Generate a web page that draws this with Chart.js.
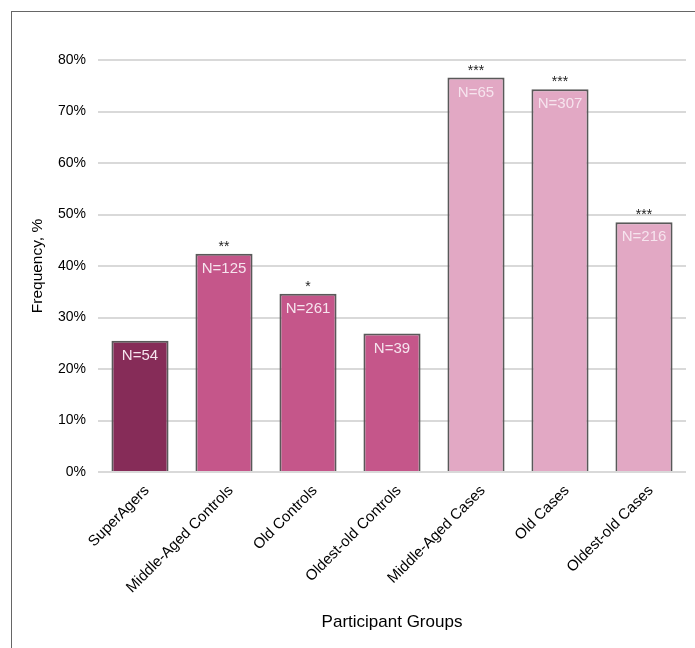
<!DOCTYPE html>
<html lang="en">
<head>
    <meta charset="UTF-8">
    <title>Participant Groups</title>
    <style>
        body {
            margin: 0;
            background: #ffffff;
            font-family: "Liberation Sans", Arial, sans-serif;
        }
        #wrap {
            position: relative;
            width: 695px;
            height: 648px;
            overflow: hidden;
        }
        #frame {
            position: absolute;
            left: 11px;
            top: 11px;
            width: 720px;
            height: 700px;
            border-top: 1px solid #666666;
            border-left: 1px solid #666666;
            pointer-events: none;
        }
    </style>
</head>
<body>
    <div id="wrap">
        <canvas id="myChart" width="695" height="648"></canvas>
        <div id="frame"></div>
    </div>

    <script src="https://cdn.jsdelivr.net/npm/chart.js"></script>
    <script>
        // datos
        const groups = ['SuperAgers', 'Middle-Aged Controls', 'Old Controls', 'Oldest-old Controls',
                        'Middle-Aged Cases', 'Old Cases', 'Oldest-old Cases'];
        const frequency = [25.5, 42.4, 34.6, 26.9, 76.6, 74.3, 48.5];
        const sampleSizes = ['N=54', 'N=125', 'N=261', 'N=39', 'N=65', 'N=307', 'N=216'];
        const stars = ['', '**', '*', '', '***', '***', '***'];
        const barColors = ['#862c58', '#c5568a', '#c5568a', '#c5568a', '#e2a8c4', '#e2a8c4', '#e2a8c4'];
        const yTicks = [0, 10, 20, 30, 40, 50, 60, 70, 80];

        const font = '"Liberation Sans", Arial, sans-serif';

        // etiquetas N= dentro de la barra y asteriscos encima
        const barLabels = {
            id: 'barLabels',
            afterDatasetsDraw(chart) {
                const ctx = chart.ctx;
                const meta = chart.getDatasetMeta(0);
                ctx.save();
                ctx.textAlign = 'center';
                meta.data.forEach((bar, i) => {
                    ctx.font = '15px ' + font;
                    ctx.fillStyle = '#f6e4ee';
                    ctx.textBaseline = 'middle';
                    ctx.fillText(sampleSizes[i], bar.x, bar.y + 15);
                    if (stars[i]) {
                        ctx.font = '14px ' + font;
                        ctx.fillStyle = '#222222';
                        ctx.textBaseline = 'alphabetic';
                        ctx.fillText(stars[i], bar.x, bar.y - 3);
                    }
                });
                ctx.restore();
            }
        };

        const ctx = document.getElementById('myChart').getContext('2d');
        const myChart = new Chart(ctx, {
            type: 'bar',
            data: {
                labels: groups,
                datasets: [{
                    data: frequency,
                    backgroundColor: barColors,
                    borderColor: '#595959',
                    borderWidth: 2,
                    borderSkipped: 'bottom',
                    barPercentage: 0.68,
                    categoryPercentage: 1.0
                }]
            },
            options: {
                responsive: false,
                animation: false,
                layout: {
                    padding: { left: 11, right: 9, top: 60, bottom: 0 }
                },
                plugins: {
                    legend: { display: false },
                    tooltip: { enabled: false }
                },
                scales: {
                    x: {
                        grid: { display: false },
                        border: { display: false },
                        ticks: {
                            color: '#000000',
                            font: { family: font, size: 15 },
                            minRotation: 45,
                            maxRotation: 45,
                            padding: 2,
                            labelOffset: 7
                        },
                        title: {
                            display: true,
                            text: 'Participant Groups',
                            color: '#000000',
                            font: { family: font, size: 17 },
                            padding: { top: 4, bottom: 15 }
                        },
                        afterFit(scale) { scale.height = 176; }
                    },
                    y: {
                        min: 0,
                        max: 80,
                        afterBuildTicks(scale) {
                            scale.ticks = yTicks.map(v => ({ value: v }));
                        },
                        grid: {
                            color: '#d9d9d9',
                            lineWidth: 2,
                            drawTicks: false
                        },
                        border: { display: false },
                        ticks: {
                            color: '#000000',
                            font: { family: font, size: 14 },
                            padding: 12,
                            callback: v => v + '%'
                        },
                        title: {
                            display: true,
                            text: 'Frequency, %',
                            color: '#000000',
                            font: { family: font, size: 15.5 },
                            padding: { top: 17, bottom: 0 }
                        },
                        afterFit(scale) { scale.width = 87; }
                    }
                }
            },
            plugins: [barLabels]
        });
    </script>
</body>
</html>
